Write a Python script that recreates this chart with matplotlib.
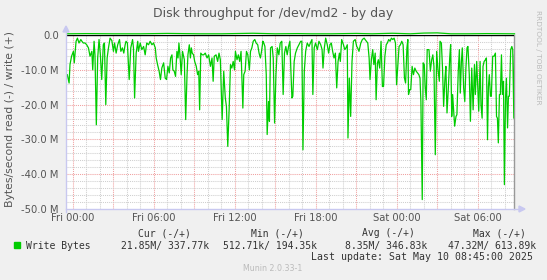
import matplotlib
matplotlib.use("Agg")
import matplotlib.pyplot as plt
from matplotlib.patches import Polygon, Rectangle
from matplotlib.lines import Line2D
from matplotlib.ticker import MultipleLocator, FixedLocator

W, H = 547, 280

# minutes since Fri 00:00 and read throughput (MB/s, drawn below zero)
read_min = [-24, -16, -12, -5, 3, 7, 15, 21, 28, 36, 41, 47, 55, 62, 70, 77, 85, 89, 95, 99,
            105, 111, 117, 123, 129, 136, 141, 147, 153, 159, 166, 174, 181, 186, 193, 200, 208, 214, 221, 227,
            233, 237, 243, 251, 258, 266, 270, 275, 282, 289,
            292, 300, 307, 315, 322, 329, 337, 344, 352, 359, 367, 371, 377, 384, 390, 396, 404, 411, 417, 423,
            429, 435, 441, 445, 451, 457, 463, 468, 472, 477, 482, 488, 496, 502, 508, 512, 518, 523, 527, 531,
            537, 542, 549, 555, 560, 564, 569, 575, 582, 589, 597, 604, 612, 619, 624, 629,
            637, 644, 650, 656, 664, 671, 678, 683, 689, 695, 701, 707, 713, 719, 723, 730, 736, 742, 748, 756,
            760, 766, 772, 778, 785, 790, 796, 802, 809, 815, 822, 828, 834, 839, 845, 849, 854, 860, 864, 870,
            874, 879, 886, 891, 897, 903, 909, 916, 922, 929, 935, 941, 947, 953, 959, 965,
            969, 974, 978, 984, 990, 998, 1005, 1013, 1018, 1023, 1029, 1035, 1042, 1050, 1056, 1063, 1067, 1073,
            1079, 1087, 1094, 1102, 1108, 1112, 1118, 1124, 1131, 1137, 1143, 1149, 1155, 1161, 1167, 1173, 1179,
            1185, 1189, 1195, 1203, 1209, 1214, 1220, 1223, 1229, 1235, 1241, 1247, 1255, 1262, 1266, 1272, 1280,
            1287, 1295,
            1299, 1305, 1311, 1317, 1321, 1327, 1333, 1338, 1344, 1348, 1354, 1358, 1364, 1370, 1376, 1381, 1387,
            1393, 1398, 1404, 1410, 1416, 1422, 1428, 1434, 1439, 1445, 1450, 1456, 1462, 1468, 1474, 1479, 1485,
            1489, 1492, 1497, 1502, 1508, 1514, 1520, 1526, 1532, 1538, 1543, 1547, 1553, 1557, 1562, 1566, 1571,
            1575, 1583, 1589, 1595, 1600, 1605, 1611, 1617, 1623, 1629,
            1632, 1638, 1643, 1648, 1654, 1658, 1663, 1669, 1675, 1679, 1684, 1688, 1693, 1697, 1703, 1707, 1713,
            1718, 1722, 1727, 1731, 1737, 1742, 1747, 1752, 1756, 1762, 1767, 1773, 1779, 1785, 1789, 1795, 1801,
            1804, 1810, 1814, 1819, 1823, 1828, 1834, 1838, 1843, 1847, 1851, 1856, 1860, 1866, 1872, 1878, 1883,
            1887, 1891, 1896, 1900, 1905, 1909, 1914, 1918, 1923, 1927, 1932, 1936, 1940, 1946, 1951, 1955, 1960,
            1963]
read_mb = [11.4, 13.8, 8.5, 6.1, 4.7, 8.0, 1.8, 0.9, 2.3, 1.3, 1.8, 2.3, 2.3, 2.8, 3.7, 6.1, 4.7, 10.0, 1.8, 5.7,
           25.8, 6.6, 1.3, 5.7, 12.8, 2.8, 2.3, 20.0, 6.6, 3.7, 0.9, 1.6, 4.7, 2.3, 5.2, 2.8, 1.3, 4.7, 3.7, 5.2,
           2.8, 1.8, 2.3, 12.8, 3.7, 1.3, 3.7, 18.1, 5.2, 1.8,
           4.7, 2.3, 4.2, 3.3, 5.7, 2.3, 2.8, 1.8, 2.8, 2.3, 3.7, 6.6, 8.5, 10.4, 12.8, 9.5, 8.0, 12.4, 12.8, 9.0,
           10.9, 6.6, 5.7, 10.0, 10.4, 11.9, 4.7, 6.6, 2.3, 6.1, 11.4, 4.7, 7.1, 24.3, 11.4, 5.7, 2.8, 6.6, 3.7, 5.2,
           5.7, 7.6, 9.0, 11.4, 10.4, 21.5, 5.2, 5.7, 5.7, 5.2, 6.6, 5.7, 9.0, 6.6, 13.3, 6.1,
           5.7, 7.6, 5.2, 7.1, 24.3, 10.4, 18.1, 20.5, 32.0, 21.5, 8.5, 9.5, 7.6, 10.0, 4.7, 7.1, 5.7, 7.6, 4.7, 21.0,
           11.4, 10.4, 4.7, 5.7, 10.0, 4.7, 3.7, 1.8, 1.3, 2.3, 2.8, 5.2, 6.6, 4.7, 1.8, 2.3, 3.3, 11.4, 28.6, 19.1,
           24.8, 3.7, 3.3, 6.6, 25.3, 11.4, 3.7, 5.7, 2.3, 1.8, 17.1, 5.2, 3.3, 5.7, 3.3, 1.8,
           9.5, 18.1, 17.6, 7.6, 5.2, 3.7, 2.8, 1.8, 1.8, 33.0, 10.4, 4.7, 2.3, 3.3, 2.3, 1.3, 17.1, 3.7,
           2.3, 4.2, 1.8, 2.8, 4.2, 9.5, 3.7, 0.9, 2.8, 5.2, 2.8, 2.3, 4.7, 6.6, 5.2, 15.2, 7.6,
           5.2, 7.6, 1.3, 2.8, 4.2, 3.7, 2.8, 29.6, 12.4, 23.4, 7.6, 1.8, 1.3, 3.3, 3.7, 4.7, 2.3,
           1.3, 0.9,
           1.3, 1.8, 2.3, 6.6, 12.8, 7.1, 4.2, 8.5, 5.2, 18.6, 8.0, 7.1, 9.5, 1.8, 14.8, 14.8, 6.1,
           2.8, 2.3, 1.3, 1.8, 0.9, 1.3, 0.9, 2.3, 14.3, 8.5, 3.3, 2.8, 1.8, 2.8, 12.4, 13.8, 3.7,
           1.3, 17.1, 15.7, 15.7, 9.0, 11.4, 9.5, 10.4, 10.9, 11.4, 12.4, 19.1, 47.3, 8.0, 8.5, 14.8, 18.6,
           4.2, 4.2, 10.4, 7.1, 5.7, 9.0, 34.4, 4.7, 10.0, 13.3,
           1.8, 2.3, 9.5, 20.5, 12.4, 9.0, 22.4, 15.2, 6.6, 2.8, 23.4, 17.1, 21.9, 26.2, 23.4, 22.9, 10.4,
           4.2, 16.7, 7.6, 3.7, 15.2, 19.1, 9.5, 3.7, 3.3, 11.4, 24.8, 9.5, 21.5, 8.5, 17.1, 7.6, 16.7,
           21.9, 7.6, 20.0, 23.9, 9.0, 7.6, 7.1, 6.6, 30.1, 14.8, 11.4, 17.6, 17.6, 6.1, 6.1, 5.2, 23.4,
           23.9, 31.0, 17.1, 17.1, 5.7, 17.1, 13.3, 43.0, 18.1, 12.4, 26.7, 17.6, 17.6, 4.2, 3.3, 4.2, 23.9,
           5.7]

# write throughput (MB/s, drawn above zero)
write_min = [-24, 60, 180, 300, 420, 560, 660, 800, 900, 1000, 1060, 1150, 1260, 1330, 1420, 1500,
             1560, 1620, 1680, 1760, 1840, 1963]
write_mb = [0.34, 0.40, 0.34, 0.34, 0.45, 0.34, 0.34, 0.50, 0.34, 0.40, 0.34, 0.34, 0.45, 0.34,
            0.50, 0.34, 0.55, 0.61, 0.34, 0.34, 0.40, 0.34]

xtick_min = [0, 360, 720, 1080, 1440, 1800]
xtick_labels = ["Fri 00:00", "Fri 06:00", "Fri 12:00", "Fri 18:00", "Sat 00:00", "Sat 06:00"]
ytick_vals = [0, -10, -20, -30, -40, -50]
ytick_labels = ["0.0", "-10.0 M", "-20.0 M", "-30.0 M", "-40.0 M", "-50.0 M"]

legend_name = "Write Bytes"
legend_heads = ["Cur (-/+)", "Min (-/+)", "Avg (-/+)", "Max (-/+)"]
legend_vals = ["21.85M/ 337.77k", "512.71k/ 194.35k", "8.35M/ 346.83k", "47.32M/ 613.89k"]

BG = "#F0F0F0"
GREEN = "#00CC00"
TXT = "#555555"


def fx(x):
    return x / W


def fy(y):
    return 1 - y / H


fig = plt.figure(figsize=(W / 100, H / 100), dpi=100, facecolor=BG)
L, R, T, B = 67, 514.3, 35, 209
ax = fig.add_axes([fx(L), fy(B), (R - L) / W, (B - T) / H])
ax.set_facecolor("white")

ax.set_xlim(-25.3, 1962)
ax.set_ylim(-50, 0)

# grid: minor every hour / 2M, major every 3 hours / 10M
dots = (0, (1, 1))
for m in range(0, 1962, 60):
    col = "#F0A0A0" if m % 180 == 0 else "#CFCFCF"
    ax.axvline(m, color=col, lw=0.75, ls=dots, zorder=0)
for v in range(-48, 0, 2):
    col = "#F0A0A0" if v % 10 == 0 else "#CFCFCF"
    ax.axhline(v, color=col, lw=0.75, ls=dots, zorder=0)

ax.plot(read_min, [-v for v in read_mb], color=GREEN, lw=0.9, zorder=3)
ax.axhline(0, color="black", lw=1.0, zorder=4)
ax.plot(write_min, write_mb, color=GREEN, lw=0.9, zorder=5, clip_on=False)

ax.set_xticks(xtick_min)
ax.set_xticklabels(xtick_labels)
ax.set_yticks(ytick_vals)
ax.set_yticklabels(ytick_labels)
ax.tick_params(axis="both", which="both", length=0, labelsize=7.2, colors=TXT)
ax.tick_params(axis="x", pad=3)
ax.tick_params(axis="y", pad=6)

for s in ("top", "left", "bottom"):
    ax.spines[s].set_visible(False)
ax.spines["right"].set_color("#999999")
ax.spines["right"].set_linewidth(1.0)

# axis lines with arrows
AX = "#C8C8F0"
fig.add_artist(Line2D([fx(L - 1), fx(520)], [fy(B), fy(B)], color=AX, lw=1.0))
fig.add_artist(Line2D([fx(L - 1), fx(L - 1)], [fy(B + 3), fy(30)], color=AX, lw=1.0))
fig.add_artist(Polygon([[fx(519), fy(206)], [fx(525), fy(B)], [fx(519), fy(212)]],
                       closed=True, color=AX, transform=fig.transFigure))
fig.add_artist(Polygon([[fx(L - 4), fy(32)], [fx(L - 1), fy(26)], [fx(L + 2), fy(32)]],
                       closed=True, color=AX, transform=fig.transFigure))

# titles
fig.text(fx(273.5), fy(14), "Disk throughput for /dev/md2 - by day", ha="center", va="center",
         fontsize=9.0, color=TXT)
fig.text(fx(10), fy(119), "Bytes/second read (-) / write (+)", rotation=90, ha="center",
         va="center", fontsize=7.8, color=TXT)
fig.text(fx(538), fy(57), "RRDTOOL / TOBI OETIKER", rotation=270, ha="center", va="center",
         fontsize=5.3, color="#BBBBBB")

# legend
mono = "DejaVu Sans Mono"
fig.add_artist(Rectangle((fx(14), fy(248.3)), 6 / W, 6 / H, color=GREEN, transform=fig.transFigure))
fig.text(fx(26), fy(245.7), legend_name, family=mono, fontsize=7.0, color="#333333", va="center")
head_x = [138.3, 250.7, 361.7, 473.3]
val_x = [120.7, 223.3, 345.0, 448.3]
for hx, h in zip(head_x, legend_heads):
    fig.text(fx(hx), fy(233.3), h, family=mono, fontsize=7.0, color="#333333", va="center")
for vx, v in zip(val_x, legend_vals):
    fig.text(fx(vx), fy(245.7), v, family=mono, fontsize=7.0, color="#333333", va="center")
fig.text(fx(533.3), fy(257.3), "Last update: Sat May 10 08:45:00 2025", family=mono, fontsize=7.1,
         color="#333333", va="center", ha="right")
fig.text(fx(243.3), fy(268.7), "Munin 2.0.33-1", fontsize=5.7, color="#BBBBBB", va="center")

fig.savefig("out.png", dpi=100, facecolor=BG)
